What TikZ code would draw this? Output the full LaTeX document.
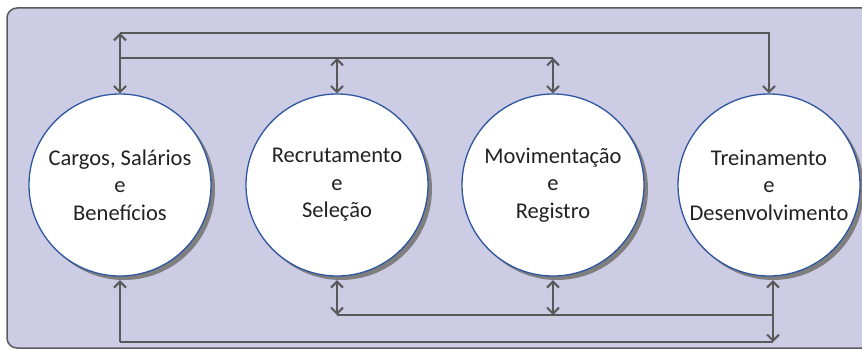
\documentclass[tikz,border=0pt]{standalone}
\usepackage{fontspec}
\setmainfont{Carlito}
\usetikzlibrary{arrows.meta}
\definecolor{bgfill}{HTML}{CCCCE4}
\definecolor{bgborder}{HTML}{5A5A5A}
\definecolor{conncol}{HTML}{595959}
\definecolor{circborder}{HTML}{2F56A0}
\definecolor{shadcol}{HTML}{7F7F7F}
\definecolor{txtcol}{HTML}{222222}
\tikzset{
  circ/.style={circle, draw=circborder, line width=1.3pt, fill=white, minimum size=182pt, inner sep=0pt,
    align=center, text=txtcol, font=\fontsize{22.5}{27.5}\selectfont},
  shad/.style={circle, fill=shadcol, minimum size=182pt, inner sep=0pt},
  conn/.style={draw=conncol, line width=2pt, >={Straight Barb[length=6pt,width=12pt]}},
}
\begin{document}
\begin{tikzpicture}[x=1pt,y=-1pt]
\useasboundingbox (0,0) rectangle (862,350);
\clip (0,0) rectangle (862,350);
\draw[fill=bgfill, draw=bgborder, line width=1.5pt, rounded corners=10pt] (7,8) rectangle (890,348);
\coordinate (tt) at (0,33);
\coordinate (tm) at (0,58);
\coordinate (bm) at (0,315);
\coordinate (bb) at (0,342);
\node[shad] (s1) at (124,189) {};
\node[shad] (s2) at (341,189) {};
\node[shad] (s3) at (557,189) {};
\node[shad] (s4) at (773,189) {};
\node[circ] (c1) at (120,185) {Cargos, Salários\\e\\Benefícios};
\node[circ] (c2) at (337,185) {Recrutamento\\e\\Seleção};
\node[circ] (c3) at (553,185) {Movimentação\\e\\Registro};
\node[circ] (c4) at (769,185) {Treinamento\\e\\Desenvolvimento};
% top connectors
\draw[conn,<->] (c1.north |- tt) -- (c1.north);
\draw[conn,->] (c1.north |- tt) -| (c4.north);
\draw[conn] (c1.north |- tm) -- (c3.north |- tm);
\draw[conn,<->] (c2.north |- tm) -- (c2.north);
\draw[conn,<->] (c3.north |- tm) -- (c3.north);
% bottom connectors
\draw[conn,->] (c1.south |- bb) -- (c1.south |- s1.south);
\draw[conn,<->] (c2.south |- s2.south) -- (c2.south |- bm);
\draw[conn,<->] (c3.south |- s3.south) -- (c3.south |- bm);
\draw[conn,<->] (s4.south) -- (s4.south |- bb);
\draw[conn] (c2.south |- bm) -- (s4.south |- bm);
\draw[conn] (c1.south |- bb) -- (s4.south |- bb);
\end{tikzpicture}
\end{document}
